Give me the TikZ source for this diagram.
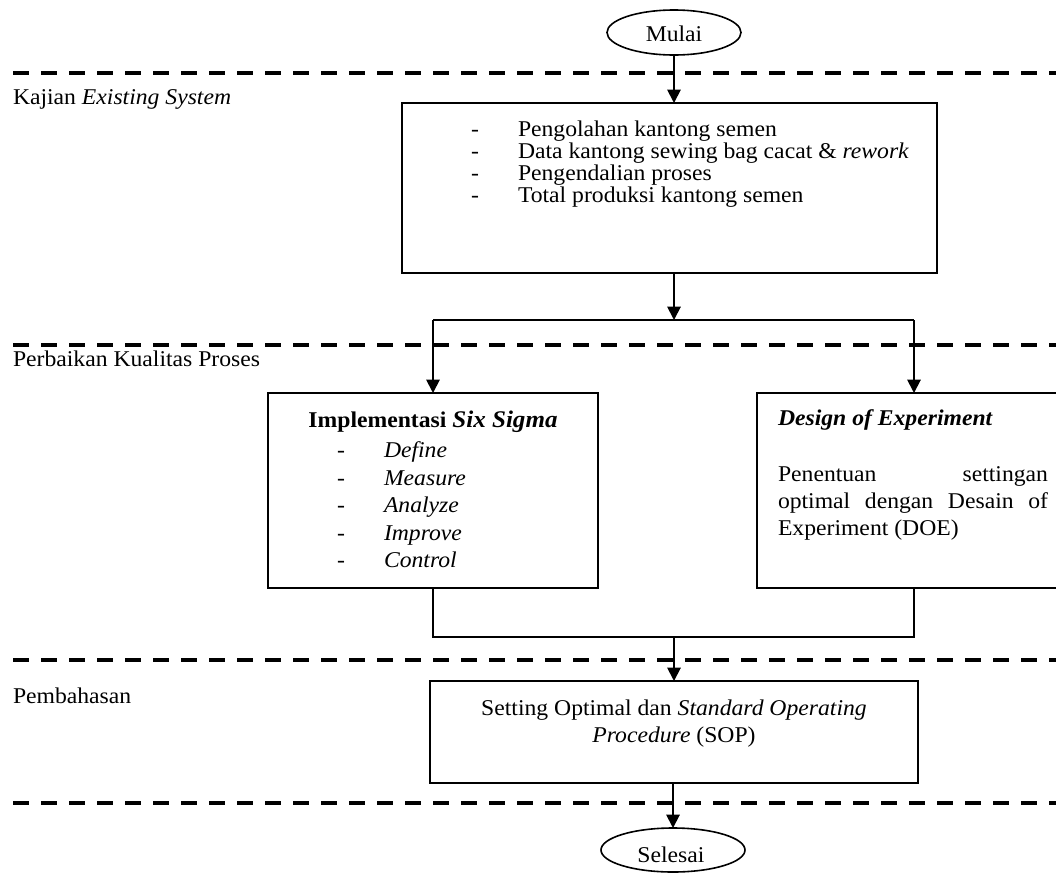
\documentclass[tikz,border=0pt]{standalone}
\usepackage{fontspec}
\setmainfont{Liberation Serif}[FakeStretch=1.05]
\usetikzlibrary{arrows.meta,shapes.geometric}
\tikzset{
  boxnode/.style={draw, line width=1.2pt, rectangle, inner sep=0pt, outer sep=0pt},
  termnode/.style={draw, line width=1.2pt, ellipse, inner sep=0pt, outer sep=0pt},
  conn/.style={line width=1.4pt},
  arr/.style={line width=1.4pt, -{Triangle[length=10pt,width=10pt]}},
  sep/.style={line width=3pt, dash pattern=on 12pt off 9pt},
  txt/.style={inner sep=0pt, outer sep=0pt, font=\fontsize{16.9}{20}\selectfont},
}
\begin{document}
\begin{tikzpicture}[x=0.75pt,y=-0.75pt]
\useasboundingbox (0,0) rectangle (1056,875);
\clip (0,0) rectangle (1056,875);
% separators
\draw[sep] (13,73) -- (1056,73);
\draw[sep] (13,345) -- (1056,345);
\draw[sep] (13,660) -- (1056,660);
\draw[sep] (13,803) -- (1056,803);
% lane labels
\node[txt, anchor=base west] (l1) at (13,104) {Kajian \textit{Existing System}};
\node[txt, anchor=base west] (l2) at (13,366) {Perbaikan Kualitas Proses};
\node[txt, anchor=base west] (l3) at (13,703) {Pembahasan};
% terminals
\node[termnode, minimum width=134*0.75pt, minimum height=45*0.75pt] (mulai) at (674,32.5) {};
\node[txt, anchor=base] (mulaitxt) at (674,41) {Mulai};
\node[termnode, minimum width=144*0.75pt, minimum height=44*0.75pt] (selesai) at (673,850) {};
\node[txt, anchor=base] (selesaitxt) at (671,862) {Selesai};
% boxes
\node[boxnode, minimum width=535*0.75pt, minimum height=170*0.75pt] (b1) at (669.5,188) {};
\node[boxnode, minimum width=330*0.75pt, minimum height=195*0.75pt] (b2) at (433,490.5) {};
\node[boxnode, minimum width=314*0.75pt, minimum height=195*0.75pt] (b3) at (914,490.5) {};
\node[boxnode, minimum width=488*0.75pt, minimum height=102*0.75pt] (b4) at (674,732) {};
% box 1 text
\foreach \yy/\tt [count=\i] in {136/Pengolahan kantong semen, 158/{Data kantong sewing bag cacat \& \textit{rework}}, 180/Pengendalian proses, 202/Total produksi kantong semen}{
  \node[txt, anchor=base west] (b1d\i) at (471,\yy) {-};
  \node[txt, anchor=base west] (b1t\i) at (518,\yy) {\tt};
}
% box 2 text
\node[txt, anchor=base] (b2h) at (433,427) {\textbf{Implementasi} {\fontsize{17.9}{20}\selectfont\textbf{\textit{Six Sigma}}}};
\foreach \yy/\tt [count=\i] in {457/Define, 485/Measure, 512.5/Analyze, 540/Improve, 567.5/Control}{
  \node[txt, anchor=base west] (b2d\i) at (337,\yy) {-};
  \node[txt, anchor=base west] (b2t\i) at (384,\yy) {\textit{\tt}};
}
% box 3 text
\node[txt, anchor=base west] (b3h) at (778,425) {\textbf{\textit{Design of Experiment}}};
\node[txt, anchor=base west] (b3p1) at (778,481.5) {\makebox[202.5pt][s]{Penentuan settingan}};
\node[txt, anchor=base west] (b3p2) at (778,508.5) {\makebox[202.5pt][s]{optimal dengan Desain of}};
\node[txt, anchor=base west] (b3p3) at (778,535.5) {Experiment (DOE)};
% box 4 text
\node[txt, anchor=base] (b4t1) at (674,715) {Setting Optimal dan \textit{Standard Operating}};
\node[txt, anchor=base] (b4t2) at (674,742.5) {\textit{Procedure} (SOP)};
% connectors
\coordinate (split) at (674,320);
\coordinate (join) at (674,637);
\draw[arr] (mulai.south) -- (mulai.south |- b1.north);
\draw[arr] (split |- b1.south) -- (split);
\draw[conn] (b2.north |- split) -- (b3.north |- split);
\draw[arr] (b2.north |- split) -- (b2.north);
\draw[arr] (b3.north |- split) -- (b3.north);
\draw[conn] (b2.south) -- (b2.south |- join) -- (b3.south |- join) -- (b3.south);
\draw[arr] (join) -- (join |- b4.north);
\draw[arr] (selesai.north |- b4.south) -- (selesai.north);
\end{tikzpicture}
\end{document}
